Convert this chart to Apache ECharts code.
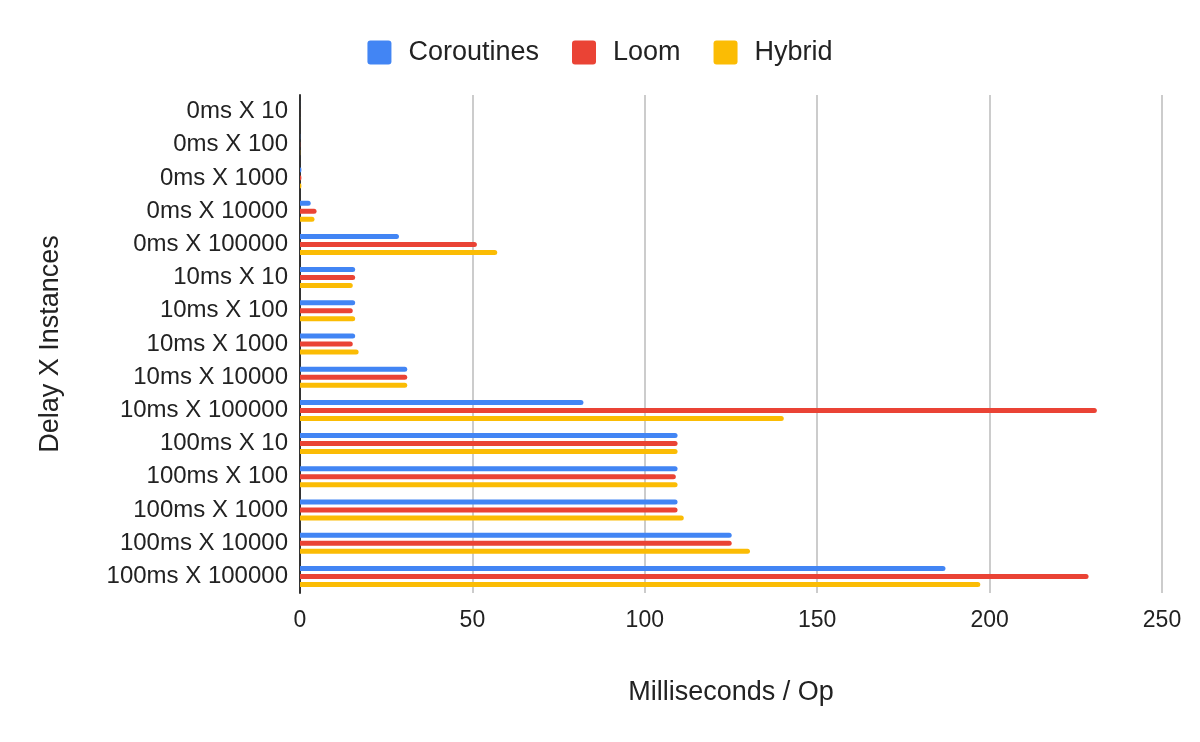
<!DOCTYPE html>
<html>
<head>
<meta charset="utf-8">
<script src="https://cdn.jsdelivr.net/npm/echarts@6/dist/echarts.min.js"></script>
<style>html,body{margin:0;padding:0;background:#fff}#c{width:1200px;height:742px}</style>
</head>
<body>
<div id="c"></div>
<script>
const categories = ["0ms X 10","0ms X 100","0ms X 1000","0ms X 10000","0ms X 100000","10ms X 10","10ms X 100","10ms X 1000","10ms X 10000","10ms X 100000","100ms X 10","100ms X 100","100ms X 1000","100ms X 10000","100ms X 100000"];
const coroutines = [0.01, 0.05, 0.4, 3.1, 28.7, 16.0, 16.0, 16.0, 31.1, 82.2, 109.5, 109.5, 109.5, 125.2, 187.2];
const loom =       [0.01, 0.05, 0.4, 4.8, 51.3, 16.0, 15.3, 15.3, 31.1, 231.1, 109.5, 109.0, 109.5, 125.2, 228.7];
const hybrid =     [0.01, 0.05, 0.4, 4.2, 57.2, 15.3, 16.0, 17.0, 31.1, 140.3, 109.5, 109.5, 111.3, 130.5, 197.3];
const xTicks = [0, 50, 100, 150, 200, 250];

const font = "'Liberation Sans', Arial, sans-serif";
const chart = echarts.init(document.getElementById('c'));
const mk = (name, data, color) => ({
  name, type: 'bar', data, barWidth: 5, barGap: '60%',
  itemStyle: { color, borderRadius: [0, 2.5, 2.5, 0] }
});
chart.setOption({
  animation: false,
  textStyle: { fontFamily: font },
  legend: {
    top: 34, left: 'center', itemWidth: 24, itemHeight: 24, itemGap: 33,
    icon: 'path://M3,0 H21 Q24,0 24,3 V21 Q24,24 21,24 H3 Q0,24 0,21 V3 Q0,0 3,0 Z',
    textStyle: { fontSize: 27, color: '#222', fontFamily: font, padding: [0, 0, 0, 12] },
    data: ['Coroutines', 'Loom', 'Hybrid']
  },
  grid: { left: 300, right: 38, top: 95, bottom: 149 },
  xAxis: {
    type: 'value', min: xTicks[0], max: xTicks[xTicks.length - 1], interval: 50,
    name: 'Milliseconds / Op', nameLocation: 'middle', nameGap: 86,
    nameTextStyle: { fontSize: 27, color: '#222', fontFamily: font },
    axisLine: { show: false }, axisTick: { show: false },
    axisLabel: { fontSize: 23, color: '#222', margin: 16, fontFamily: font },
    splitLine: { show: true, lineStyle: { color: '#cccccc', width: 2 } }
  },
  yAxis: {
    type: 'category', data: categories, inverse: true,
    name: 'Delay X Instances', nameLocation: 'middle', nameGap: 236, nameRotate: 90,
    nameTextStyle: { fontSize: 27, color: '#222', fontFamily: font },
    axisLine: { show: true, lineStyle: { color: '#333', width: 2 } },
    axisTick: { show: false },
    axisLabel: { fontSize: 24, color: '#222', margin: 12, fontFamily: font }
  },
  series: [
    mk('Coroutines', coroutines, '#4285F4'),
    mk('Loom', loom, '#EA4335'),
    mk('Hybrid', hybrid, '#FBBC04')
  ]
});
</script>
</body>
</html>
